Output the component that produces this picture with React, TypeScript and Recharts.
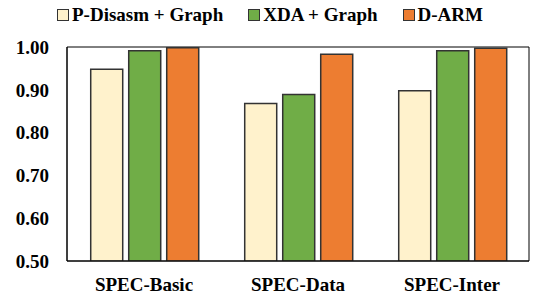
import React from 'react';
import { BarChart, Bar, XAxis, YAxis, Legend, ReferenceArea } from 'recharts';

const categories = ['SPEC-Basic', 'SPEC-Data', 'SPEC-Inter'];
const pDisasm = [0.948, 0.868, 0.898];
const xda = [0.991, 0.889, 0.991];
const dArm = [0.998, 0.983, 0.997];
const yTicks = [0.5, 0.6, 0.7, 0.8, 0.9, 1.0];

const seriesNames = ['P-Disasm + Graph', 'XDA + Graph', 'D-ARM'];
const seriesColors = ['#FFF2CC', '#70AD47', '#ED7D31'];

const data = categories.map((c, i) => ({
  name: c,
  p: pDisasm[i],
  x: xda[i],
  d: dArm[i],
}));

const FONT = 'Liberation Serif';

const LegendContent = (props: any) => {
  const raw = props.payload || [];
  const payload = seriesNames
    .map((n) => raw.find((e: any) => e.value === n))
    .filter(Boolean);
  return (
    <div
      style={{
        display: 'flex',
        justifyContent: 'center',
        alignItems: 'center',
        fontFamily: FONT,
        fontWeight: 700,
        fontSize: 19,
        color: '#000',
        height: 30,
        paddingLeft: 4,
      }}
    >
      {payload.map((e: any, i: number) => (
        <div key={i} style={{ display: 'flex', alignItems: 'center', marginRight: i < payload.length - 1 ? 25 : 0 }}>
          <span
            style={{
              display: 'inline-block',
              width: 10,
              height: 10,
              background: e.color,
              border: '1px solid #333',
              marginRight: 3,
            }}
          />
          <span style={{ fontFamily: FONT, fontWeight: 700, fontSize: 19 }}>{e.value}</span>
        </div>
      ))}
    </div>
  );
};

export default function App() {
  return (
    <div style={{ position: 'absolute', left: 0, top: 0, width: 536, height: 297, background: '#fff', fontFamily: FONT }}>
      <BarChart
        width={536}
        height={297}
        data={data}
        margin={{ top: 17, right: 7, left: 0, bottom: 0 }}
        barCategoryGap="15.4%"
        barGap={6}
      >
        <Legend
          verticalAlign="top"
          align="center"
          itemSorter={null as any}
          content={(p: any) => <LegendContent {...p} />}
          wrapperStyle={{ top: 0, left: 0, width: 536, height: 30, fontFamily: FONT }}
        />
        <XAxis
          dataKey="name"
          height={36}
          tickLine={false}
          axisLine={{ stroke: '#000', strokeWidth: 1 }}
          tickMargin={11}
          tick={{ fontFamily: FONT, fontWeight: 'bold', fontSize: 19, fill: '#000' }}
          interval={0}
        />
        <YAxis
          width={67}
          domain={[0.5, 1.0]}
          ticks={yTicks}
          allowDataOverflow
          tickLine={false}
          axisLine={{ stroke: '#000', strokeWidth: 1 }}
          tickMargin={12}
          tickFormatter={(v: number) => v.toFixed(2)}
          tick={{ fontFamily: FONT, fontWeight: 'bold', fontSize: 19, fill: '#000' }}
        />
        <Bar dataKey="p" name={seriesNames[0]} fill={seriesColors[0]} stroke="#333" strokeWidth={1.5} isAnimationActive={false} />
        <Bar dataKey="x" name={seriesNames[1]} fill={seriesColors[1]} stroke="#333" strokeWidth={1.5} isAnimationActive={false} />
        <Bar dataKey="d" name={seriesNames[2]} fill={seriesColors[2]} stroke="#333" strokeWidth={1.5} isAnimationActive={false} />
        <ReferenceArea y1={0.5} y2={1.0} fill="none" fillOpacity={0} stroke="#000" strokeWidth={1} ifOverflow="visible" />
      </BarChart>
    </div>
  );
}
